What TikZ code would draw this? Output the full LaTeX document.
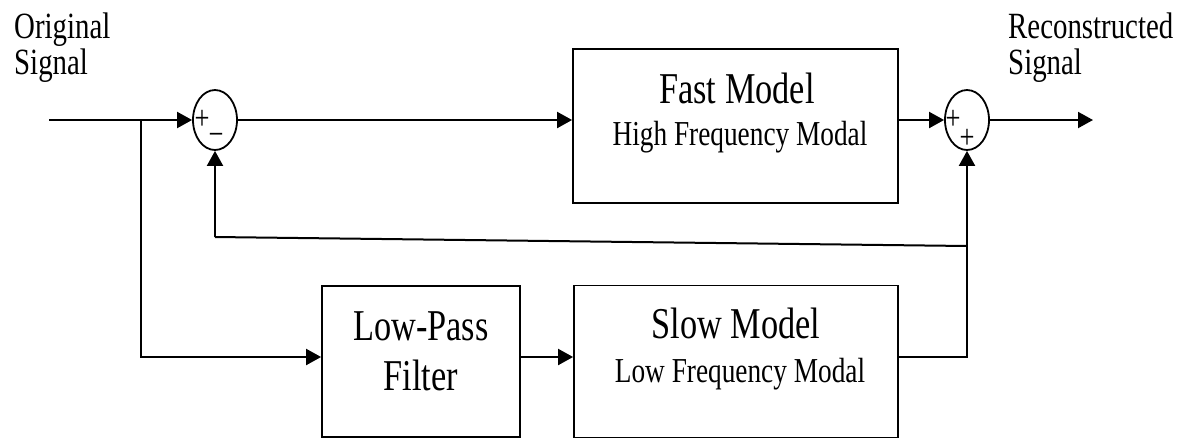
\documentclass[tikz,border=0pt]{standalone}
\usepackage{fontspec}
\setmainfont{Liberation Serif}[FakeStretch=0.78]
\usetikzlibrary{arrows.meta,shapes.geometric,calc}

\tikzset{
  wire/.style={line width=2pt, -{Triangle[length=15pt,width=16pt]}},
  plainwire/.style={line width=2pt},
  block/.style={draw, line width=1.8pt, rectangle, inner sep=0pt},
  summer/.style={draw, line width=1.8pt, ellipse, inner sep=0pt,
                 minimum width=44pt, minimum height=60pt},
  bigtxt/.style={inner sep=0pt, font=\fontsize{44}{50}\selectfont},
  subtxt/.style={inner sep=0pt, font=\fontsize{35}{38}\selectfont},
  sidetxt/.style={inner sep=0pt, align=left, font=\fontsize{37}{36}\selectfont},
  sign/.style={inner sep=0pt, font=\fontsize{34}{34}\selectfont}
}

\begin{document}
\begin{tikzpicture}[x=1pt,y=-1pt]
  \useasboundingbox[fill=white] (0,0) rectangle (1178,440);

  % blocks
  \node[block, minimum width=325pt, minimum height=154pt] (fast) at (735.5,126) {};
  \node[block, minimum width=198pt, minimum height=151pt] (lpf)  at (421,361.5) {};
  \node[block, minimum width=324pt, minimum height=152pt] (slow) at (736,361.5) {};

  % summing junctions
  \node[summer] (s1) at (215,120) {};
  \node[summer] (s2) at (967,120) {};
  \node[sign] (s1p) at (202,120) {+};
  \node[sign] (s1m) at (216,139) {−};
  \node[sign] (s2p) at (953,120) {+};
  \node[sign] (s2q) at (967,139) {+};

  % block texts
  \node[bigtxt, anchor=base] (fastt)  at (737,103) {Fast Model};
  \node[subtxt, anchor=base] (fasts)  at (740,145) {High Frequency  Modal};
  \node[bigtxt, anchor=base] (slowt)  at (736,338) {Slow Model};
  \node[subtxt, anchor=base] (slows)  at (740,382) {Low Frequency  Modal};
  \node[bigtxt, anchor=base] (lpft1)  at (421,340) {Low-Pass};
  \node[bigtxt, anchor=base] (lpft2)  at (421,390) {Filter};

  % signal labels
  \node[sidetxt, anchor=north west] (orig) at (14,13) {Original\\Signal};
  \node[sidetxt, anchor=north west] (reco) at (1008,13) {Reconstructed\\Signal};

  % reference points
  \coordinate (in)  at (49,120);
  \coordinate (br)  at (141,120);
  \coordinate (out) at (1093,120);
  \coordinate (mid) at (0,357);
  \coordinate (tapR) at (967,246);
  \coordinate (tapL) at (215,237);

  % forward path
  \draw[wire] (in) -- (s1.west);
  \draw[wire] (s1.east) -- (s1.east -| fast.west);
  \draw[wire] (s2.west -| fast.east) -- (s2.west);
  \draw[wire] (s2.east) -- (out);

  % low-frequency path
  \draw[wire] (br) |- (lpf.west |- mid);
  \draw[wire] (lpf.east |- mid) -- (slow.west |- mid);
  \draw[wire] (slow.east |- mid) -| (s2.south);

  % feedback of the slow part
  \draw[plainwire] (tapR) -- (tapL);
  \draw[wire] (tapL) -- (s1.south);
\end{tikzpicture}
\end{document}
